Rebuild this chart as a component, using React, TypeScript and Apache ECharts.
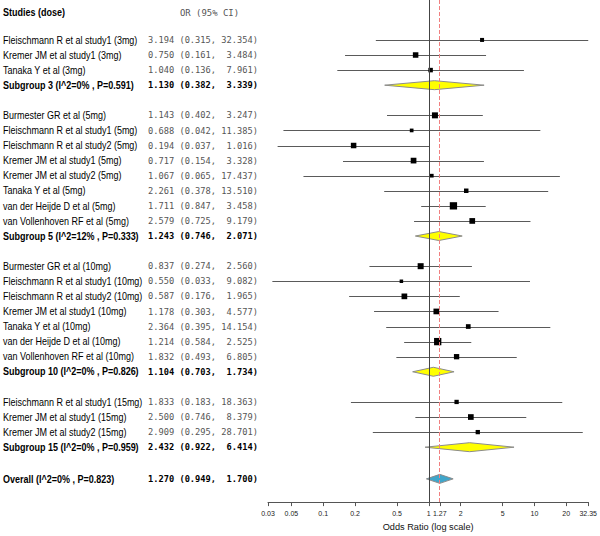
import React, { useEffect, useRef } from "react";
import * as echarts from "echarts";

// ---- data ----
const studyNames = [
  "Fleischmann R et al study1 (3mg)",
  "Kremer JM et al study1 (3mg)",
  "Tanaka Y et al (3mg)",
  "Subgroup 3 (I^2=0% , P=0.591)",
  "Burmester GR et al (5mg)",
  "Fleischmann R et al study1 (5mg)",
  "Fleischmann R et al study2 (5mg)",
  "Kremer JM et al study1 (5mg)",
  "Kremer JM et al study2 (5mg)",
  "Tanaka Y et al (5mg)",
  "van der Heijde D et al (5mg)",
  "van Vollenhoven RF et al (5mg)",
  "Subgroup 5 (I^2=12% , P=0.333)",
  "Burmester GR et al (10mg)",
  "Fleischmann R et al study1 (10mg)",
  "Fleischmann R et al study2 (10mg)",
  "Kremer JM et al study1 (10mg)",
  "Tanaka Y et al (10mg)",
  "van der Heijde D et al (10mg)",
  "van Vollenhoven RF et al (10mg)",
  "Subgroup 10 (I^2=0% , P=0.826)",
  "Fleischmann R et al study1 (15mg)",
  "Kremer JM et al study1 (15mg)",
  "Kremer JM et al study2 (15mg)",
  "Subgroup 15 (I^2=0% , P=0.959)",
  "Overall (I^2=0% , P=0.823)",
];
const orValues = [
  3.194, 0.75, 1.04, 1.13,
  1.143, 0.688, 0.194, 0.717, 1.067, 2.261, 1.711, 2.579, 1.243,
  0.837, 0.55, 0.587, 1.178, 2.364, 1.214, 1.832, 1.104,
  1.833, 2.5, 2.909, 2.432,
  1.27,
];
const ciLower = [
  0.315, 0.161, 0.136, 0.382,
  0.402, 0.042, 0.037, 0.154, 0.065, 0.378, 0.847, 0.725, 0.746,
  0.274, 0.033, 0.176, 0.303, 0.395, 0.584, 0.493, 0.703,
  0.183, 0.746, 0.295, 0.922,
  0.949,
];
const ciUpper = [
  32.354, 3.484, 7.961, 3.339,
  3.247, 11.385, 1.016, 3.328, 17.437, 13.51, 3.458, 9.179, 2.071,
  2.56, 9.082, 1.965, 4.577, 14.154, 2.525, 6.805, 1.734,
  18.363, 8.379, 28.701, 6.414,
  1.7,
];
// weight box sizes (px) as seen; 0 = summary diamond
const boxSizes = [
  4, 5.5, 4.5, 0,
  6, 3.7, 5.5, 5.7, 3.7, 4.5, 7.3, 5.7, 0,
  6, 3.5, 5.7, 5.7, 4.7, 7.3, 5.3, 0,
  4.3, 5.7, 4.3, 0,
  0,
];
const rowKinds = [
  "study", "study", "study", "subgroup",
  "study", "study", "study", "study", "study", "study", "study", "study", "subgroup",
  "study", "study", "study", "study", "study", "study", "study", "subgroup",
  "study", "study", "study", "subgroup",
  "overall",
];
const rowPositions = [
  0, 1, 2, 3,
  5, 6, 7, 8, 9, 10, 11, 12, 13,
  15, 16, 17, 18, 19, 20, 21, 22,
  24, 25, 26, 27,
  29.1,
];
const tickValues = [0.03, 0.05, 0.1, 0.2, 0.5, 1, 1.27, 2, 5, 10, 20, 32.35];
const tickLabels = ["0.03", "0.05", "0.1", "0.2", "0.5", "1", "1.27", "2", "5", "10", "20", "32.35"];
const nullEffect = 1;
const overallEffect = 1.27;
const xMin = 0.03;
const xMax = 32.35;

const L = (v: number) => Math.log10(v);

function valueText(i: number) {
  return (
    orValues[i].toFixed(3) +
    " (" +
    ciLower[i].toFixed(3) +
    ", " +
    ciUpper[i].toFixed(3).padStart(6, "\u00a0") +
    ")"
  );
}

export default function App() {
  const ref = useRef<HTMLDivElement>(null);

  useEffect(() => {
    const chart = echarts.init(ref.current!, null, { renderer: "svg" });
    const forestData = orValues.map((v, i) => [
      L(ciLower[i]),
      L(ciUpper[i]),
      L(v),
      rowPositions[i],
      boxSizes[i],
      i,
    ]);
    const textData = studyNames.map((_, i) => [0, rowPositions[i], i]);
    const tickLogs = tickValues.map(L);

    const sansFont = "'Liberation Sans', Arial, sans-serif";
    const monoFont = "'DejaVu Sans Mono', monospace";

    chart.setOption({
      animation: false,
      grid: { left: 268, right: 9, top: 0, bottom: 33 },
      xAxis: {
        type: "value",
        min: L(xMin),
        max: L(xMax),
        splitLine: { show: false },
        axisLine: { show: true, onZero: false, lineStyle: { color: "#555", width: 1 } },
        axisTick: {
          show: true,
          customValues: tickLogs,
          length: 4,
          lineStyle: { color: "#555", width: 1 },
        },
        axisLabel: {
          customValues: tickLogs,
          hideOverlap: false,
          formatter: (v: number) => {
            let best = 0;
            let d = Infinity;
            tickLogs.forEach((t, k) => {
              const dd = Math.abs(t - v);
              if (dd < d) {
                d = dd;
                best = k;
              }
            });
            return tickLabels[best];
          },
          fontSize: 7,
          color: "#222",
          margin: 8,
          fontFamily: sansFont,
        },
        name: "Odds Ratio (log scale)",
        nameLocation: "middle",
        nameGap: 13,
        nameTextStyle: {
          fontSize: 9.2,
          color: "#111",
          fontFamily: sansFont,
          verticalAlign: "top",
        },
      },
      yAxis: {
        type: "value",
        inverse: true,
        min: -2.647,
        max: 30.64,
        show: false,
      },
      graphic: [
        {
          type: "text",
          x: 3,
          y: 12,
          scaleX: 0.9,
          style: {
            text: "Studies (dose)",
            fontFamily: sansFont,
            fontSize: 10,
            fontWeight: "bold",
            fill: "#000",
            verticalAlign: "middle",
          },
        },
        {
          type: "text",
          x: 180,
          y: 12,
          scaleX: 0.95,
          style: {
            text: "OR (95% CI)",
            fontFamily: monoFont,
            fontSize: 9.4,
            fill: "#555",
            verticalAlign: "middle",
          },
        },
      ],
      series: [
        {
          type: "custom",
          clip: false,
          silent: true,
          data: forestData,
          encode: { x: [0, 1, 2], y: 3 },
          renderItem: (params: any, api: any) => {
            const lo = api.value(0);
            const hi = api.value(1);
            const est = api.value(2);
            const row = api.value(3);
            const size = api.value(4);
            const idx = api.value(5);
            const kind = rowKinds[idx];
            const pLo = api.coord([lo, row]);
            const pHi = api.coord([hi, row]);
            const pC = api.coord([est, row]);
            if (kind === "study") {
              const yy = Math.round(pC[1]) + 0.5;
              return {
                type: "group",
                children: [
                  {
                    type: "line",
                    shape: { x1: pLo[0], y1: yy, x2: pHi[0], y2: yy },
                    style: { stroke: "#5a5a5a", lineWidth: 1 },
                  },
                  {
                    type: "rect",
                    shape: {
                      x: pC[0] - size / 2,
                      y: pC[1] - size / 2,
                      width: size,
                      height: size,
                    },
                    style: { fill: "#000" },
                  },
                ],
              };
            }
            const h = 4.5;
            return {
              type: "polygon",
              shape: {
                points: [
                  [pLo[0], pLo[1]],
                  [pC[0], pC[1] - h],
                  [pHi[0], pHi[1]],
                  [pC[0], pC[1] + h],
                ],
              },
              style: {
                fill: kind === "overall" ? "#3fa6cb" : "#ffff00",
                stroke: "#8c8c8c",
                lineWidth: 1,
              },
            };
          },
          markLine: {
            silent: true,
            symbol: "none",
            label: { show: false },
            data: [
              { xAxis: L(nullEffect), lineStyle: { color: "#444", type: "solid", width: 1 } },
              { xAxis: L(overallEffect), lineStyle: { color: "#f08080", type: "dashed", width: 1 } },
            ],
          },
        },
        {
          type: "custom",
          clip: false,
          silent: true,
          data: textData,
          encode: { x: 0, y: 1 },
          renderItem: (params: any, api: any) => {
            const idx = api.value(2);
            const y = api.coord([0, api.value(1)])[1];
            const bold = rowKinds[idx] !== "study";
            return {
              type: "group",
              children: [
                {
                  type: "text",
                  x: 3,
                  y,
                  scaleX: 0.9,
                  style: {
                    text: studyNames[idx],
                    x: 0,
                    y: 0,
                    fontFamily: sansFont,
                    fontSize: 10,
                    fontWeight: bold ? "bold" : "normal",
                    fill: "#000",
                    verticalAlign: "middle",
                    align: "left",
                  },
                },
                {
                  type: "text",
                  x: 148,
                  y,
                  scaleX: 0.947,
                  style: {
                    text: valueText(idx),
                    x: 0,
                    y: 0,
                    fontFamily: monoFont,
                    fontSize: 9.2,
                    fontWeight: bold ? "bold" : "normal",
                    fill: bold ? "#000" : "#555",
                    verticalAlign: "middle",
                    align: "left",
                  },
                },
              ],
            };
          },
        },
      ],
    });
    return () => chart.dispose();
  }, []);

  return (
    <div
      ref={ref}
      style={{ position: "absolute", left: 0, top: 0, width: 600, height: 536, background: "#fff" }}
    />
  );
}
